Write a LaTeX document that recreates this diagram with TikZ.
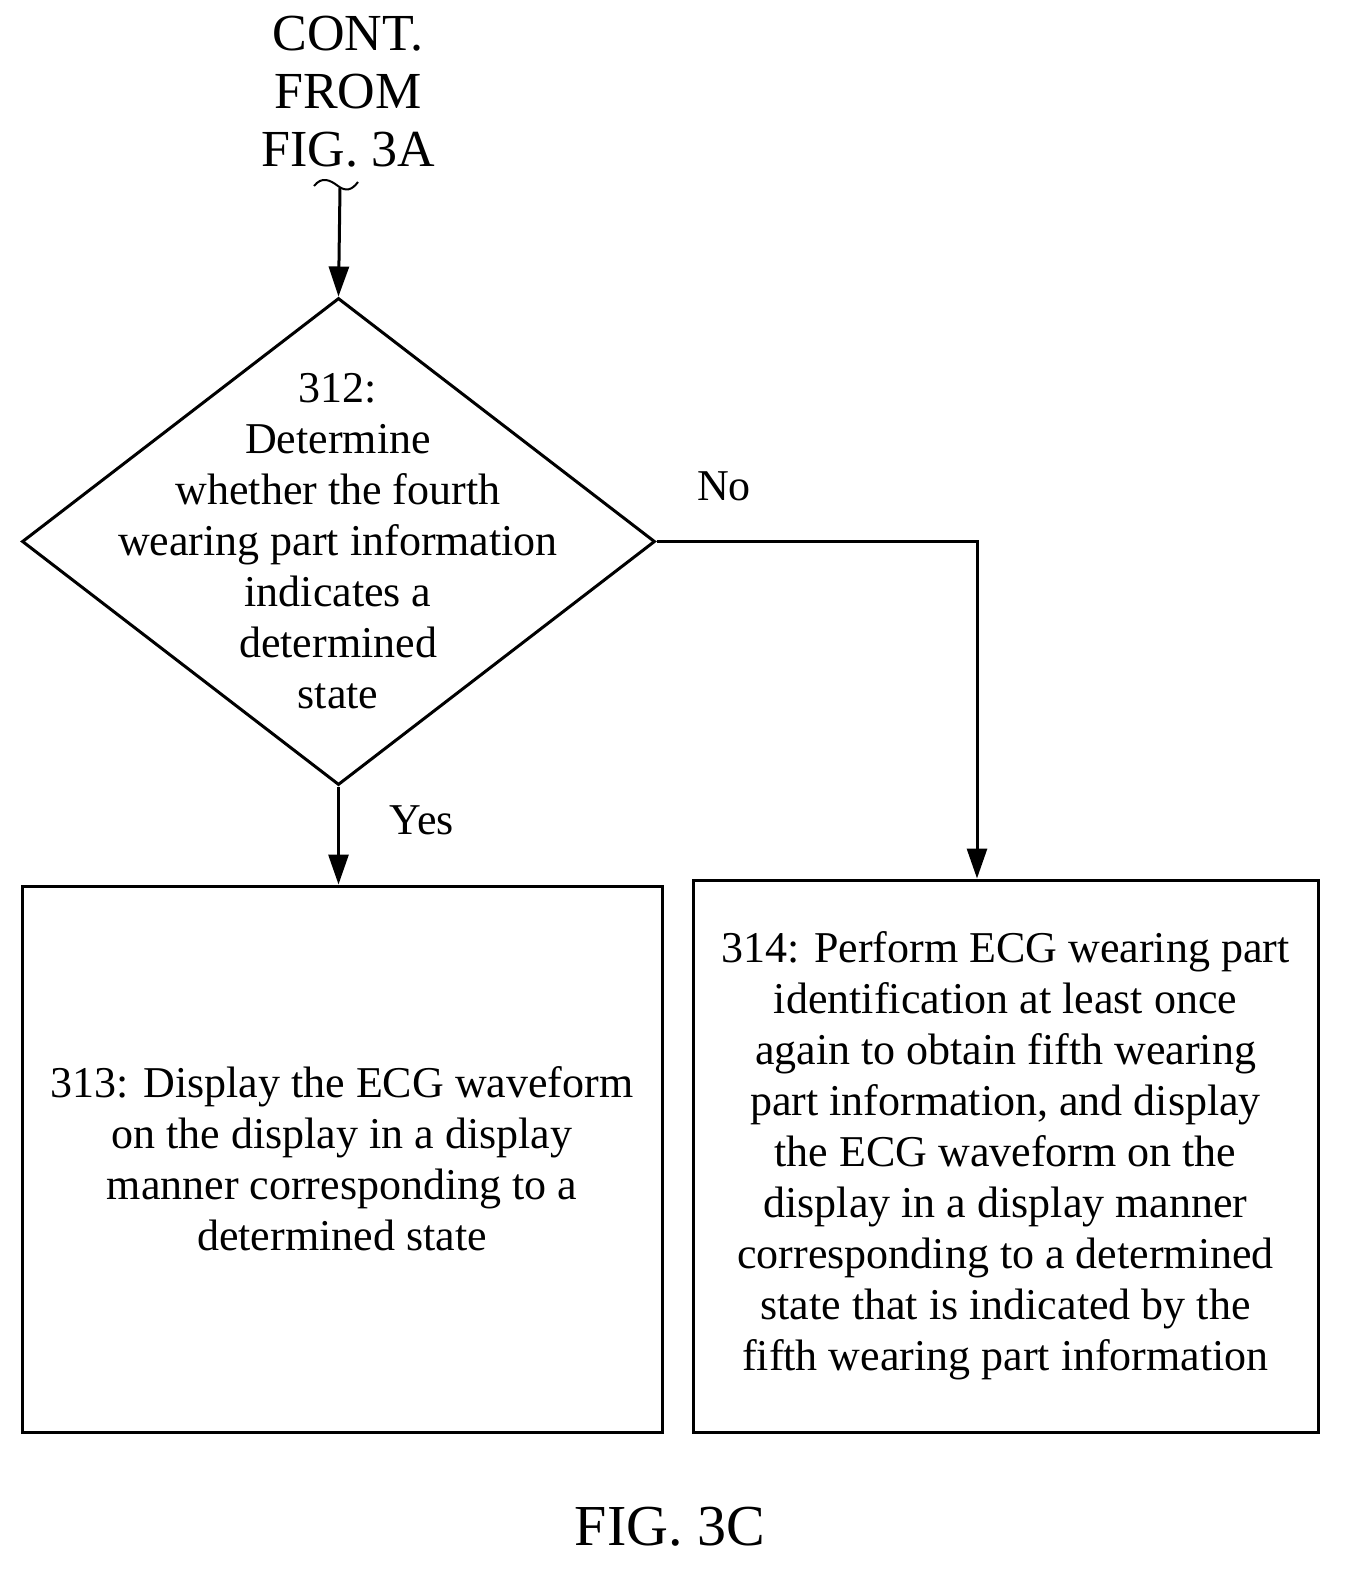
\documentclass[tikz,border=0pt]{standalone}
\usepackage{fontspec}
\setmainfont{Liberation Serif}
\usetikzlibrary{shapes.geometric,arrows.meta}
\begin{document}
\begin{tikzpicture}[x=1pt,y=-1pt,line width=3pt,
  arr/.style={-{Triangle[length=30pt,width=20pt]}},
  txt/.style={align=center,font=\fontsize{44}{51}\selectfont,inner sep=0},
  box/.style={draw,rectangle,inner sep=0}]
\useasboundingbox (0,0) rectangle (1362,1595);
\node[txt,font=\fontsize{52}{58}\selectfont] (cont) at (348,92) {CONT.\\FROM\\FIG. 3A};
\draw[line width=2pt] (314,186) .. controls (322,176) and (330,180) .. (338,186) .. controls (346,192) and (352,190) .. (358,182);
\coordinate (c0) at (340,188);
\node[draw,diamond,minimum width=633pt,minimum height=487pt,inner sep=0] (d) at (338.5,541.5) {};
\node[txt] (dt) at (338,541) {312:\\Determine\\whether the fourth\\wearing part information\\indicates a\\determined\\state};
\node[box,minimum width=640pt,minimum height=546pt] (b313) at (342,1159) {};
\node[txt] at (b313.center) {313: Display the ECG waveform\\on the display in a display\\manner corresponding to a\\determined state};
\node[box,minimum width=625pt,minimum height=552pt] (b314) at (1005.5,1156) {};
\node[txt] at (b314.center) {314: Perform ECG wearing part\\identification at least once\\again to obtain fifth wearing\\part information, and display\\the ECG waveform on the\\display in a display manner\\corresponding to a determined\\state that is indicated by the\\fifth wearing part information};
\draw[arr] (c0) -- (d.north);
\draw[arr] (d.south) -- (b313.north -| d.south);
\draw[arr] (d.east) -| (b314.north -| 977,0);
\node[txt] (yes) at (422,820) {Yes};
\node[txt] (no) at (724,486) {No};
\node[txt,font=\fontsize{58}{60}\selectfont] (fig) at (670,1527) {FIG. 3C};
\end{tikzpicture}
\end{document}
